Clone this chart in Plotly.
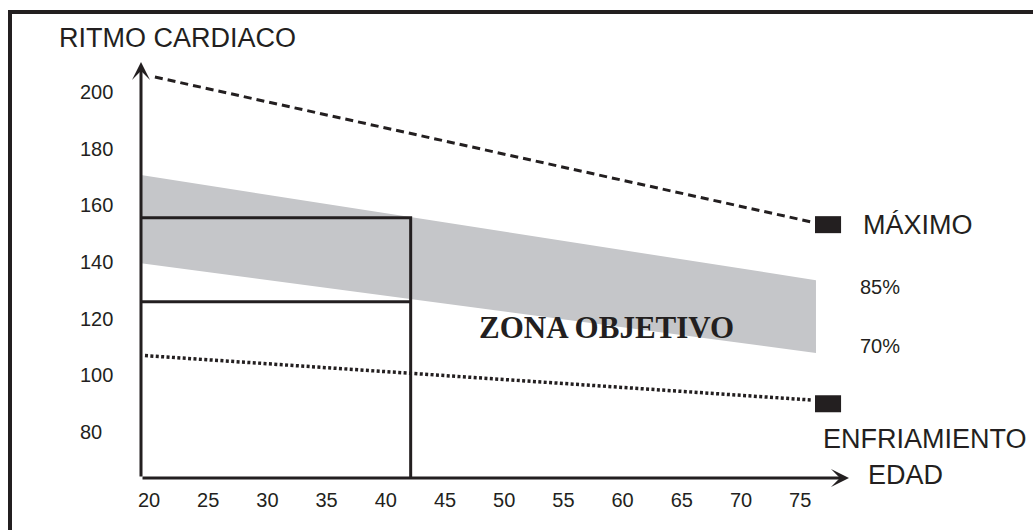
import plotly.graph_objects as go

# ---- data ----
age_ticks = [20, 25, 30, 35, 40, 45, 50, 55, 60, 65, 70, 75]
hr_ticks = [80, 100, 120, 140, 160, 180, 200]

band_age = [19.32, 76.33]
band_upper = [170.7, 133.6]   # 85 %
band_lower = [139.6, 107.9]   # 70 %

max_age = [20.5, 76.0]
max_hr = [205.3, 154.1]

cool_age = [19.66, 76.0]
cool_hr = [107.0, 91.3]

example_age = 42.1
example_upper = 155.6
example_lower = 126.0

marker_age = [76.25, 78.45]
max_marker_hr = [150.2, 156.2]
cool_marker_hr = [87.0, 93.0]

x_range = [19.324, 79.12]
y_range = [63.8, 210.6]

INK = "#231f20"
GRAY = "#c5c6c9"

# ---- layout geometry (pixels) ----
W, H = 1033, 530
L, R, T, B = 141, 849, 62, 478
PW, PH = R - L, B - T


def px(x):
    return (x - L) / PW


def py(y):
    return (B - y) / PH


fig = go.Figure()

# target zone band
fig.add_trace(go.Scatter(
    x=band_age + band_age[::-1],
    y=band_upper + band_lower[::-1],
    fill="toself", fillcolor=GRAY, line=dict(width=0),
    mode="lines", hoverinfo="skip", showlegend=False))

# max heart rate (dashed)
fig.add_trace(go.Scatter(
    x=max_age, y=max_hr, mode="lines",
    line=dict(color=INK, width=3, dash="8px,5px"),
    showlegend=False, hoverinfo="skip"))

# cool-down (dotted)
fig.add_trace(go.Scatter(
    x=cool_age, y=cool_hr, mode="lines",
    line=dict(color=INK, width=3.5, dash="3px,2.4px"),
    showlegend=False, hoverinfo="skip"))

# example box for a given age
fig.add_trace(go.Scatter(
    x=[x_range[0], example_age, example_age, None, x_range[0], example_age],
    y=[example_upper, example_upper, y_range[0], None, example_lower, example_lower],
    mode="lines", line=dict(color=INK, width=3),
    showlegend=False, hoverinfo="skip"))

shapes = []
# end markers
for hr in (max_marker_hr, cool_marker_hr):
    shapes.append(dict(type="rect", xref="x", yref="y",
                       x0=marker_age[0], x1=marker_age[1], y0=hr[0], y1=hr[1],
                       fillcolor=INK, line=dict(width=0)))
# outer frame
shapes.append(dict(type="line", xref="paper", yref="paper",
                   x0=px(10), x1=px(10), y0=py(10), y1=py(545),
                   line=dict(color=INK, width=4)))
shapes.append(dict(type="line", xref="paper", yref="paper",
                   x0=px(8), x1=px(1045), y0=py(12), y1=py(12),
                   line=dict(color=INK, width=4)))

annotations = []
# axes with arrowheads
annotations.append(dict(x=x_range[1], y=y_range[0], ax=x_range[0], ay=y_range[0],
                        xref="x", yref="y", axref="x", ayref="y", text="",
                        showarrow=True, arrowhead=3, arrowsize=1, arrowwidth=3,
                        arrowcolor=INK, standoff=0))
annotations.append(dict(x=x_range[0], y=y_range[1], ax=x_range[0], ay=y_range[0],
                        xref="x", yref="y", axref="x", ayref="y", text="",
                        showarrow=True, arrowhead=3, arrowsize=1, arrowwidth=3,
                        arrowcolor=INK, standoff=0))

# y tick labels (left aligned as in the reference)
for v in hr_ticks:
    annotations.append(dict(x=px(78), y=v, xref="paper", yref="y", text=str(v),
                            showarrow=False, xanchor="left", yanchor="middle",
                            font=dict(size=20, color=INK)))


def label(text, x, y, size=27, anchor="left", family="Arial, Liberation Sans, sans-serif"):
    annotations.append(dict(x=px(x), y=py(y), xref="paper", yref="paper", text=text,
                            showarrow=False, xanchor=anchor, yanchor="middle",
                            font=dict(size=size, color=INK, family=family)))


label("RITMO CARDIACO", 57, 38)
label("MÁXIMO", 861, 225)
label("85%", 858, 287, size=20)
label("70%", 858, 346, size=20)
label("ENFRIAMIENTO", 821, 439)
label("EDAD", 866, 475)
label("<b>ZONA OBJETIVO</b>", 606, 327, size=31, anchor="center",
      family="Times New Roman, Liberation Serif, serif")

fig.update_layout(
    width=W, height=H,
    margin=dict(l=L, r=W - R, t=T, b=H - B, pad=0),
    paper_bgcolor="white", plot_bgcolor="white",
    font=dict(family="Arial, Liberation Sans, sans-serif", color=INK),
    shapes=shapes, annotations=annotations,
    xaxis=dict(range=x_range, showgrid=False, zeroline=False, showline=False,
               tickmode="array", tickvals=age_ticks, ticks="",
               tickfont=dict(size=20, color=INK), ticklabelstandoff=8,
               fixedrange=True),
    yaxis=dict(range=y_range, showgrid=False, zeroline=False, showline=False,
               showticklabels=False, ticks="", fixedrange=True),
)

fig.write_html("out.html", config={"displayModeBar": False},
               post_script="document.body.style.margin='0px';")
